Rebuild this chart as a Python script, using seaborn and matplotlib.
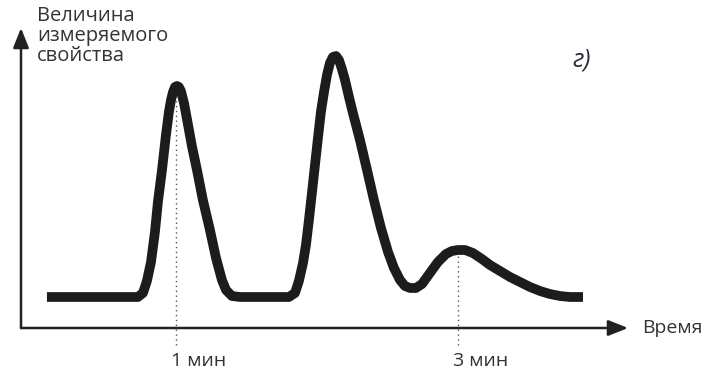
import matplotlib
matplotlib.use("Agg")
import matplotlib.pyplot as plt
import seaborn as sns
import pandas as pd

sns.set_theme(style="white")
plt.rcParams['font.family'] = ['Open Sans', 'DejaVu Sans']

# Signal (time in minutes, signal in arbitrary units)
time_min = [0.085, 0.730, 0.766, 0.794, 0.823, 0.851, 0.872, 0.901, 0.929, 0.950, 0.965, 0.979,
            0.993, 1.007, 1.021, 1.035, 1.057, 1.078, 1.113, 1.149, 1.191, 1.241, 1.284, 1.326,
            1.355, 1.397, 1.454,
            1.801, 1.844, 1.872, 1.901, 1.922, 1.943, 1.965, 1.986, 2.007, 2.028, 2.050, 2.071,
            2.092, 2.113, 2.135, 2.156, 2.177, 2.199, 2.227, 2.255, 2.305, 2.355, 2.404, 2.454,
            2.504, 2.546, 2.589, 2.624, 2.660, 2.702, 2.745, 2.801, 2.858, 2.915, 2.957, 3.000,
            3.050, 3.106, 3.170, 3.227, 3.298, 3.369, 3.440, 3.511, 3.582, 3.652, 3.723, 3.794,
            3.887]
signal = [0.31, 0.31, 0.35, 0.47, 0.66, 0.96, 1.26, 1.58, 1.93, 2.16, 2.28, 2.36,
          2.41, 2.42, 2.41, 2.37, 2.25, 2.09, 1.82, 1.58, 1.28, 0.98, 0.70, 0.48,
          0.38, 0.32, 0.31,
          0.31, 0.35, 0.47, 0.65, 0.83, 1.08, 1.36, 1.63, 1.90, 2.16, 2.36, 2.53,
          2.65, 2.71, 2.72, 2.68, 2.59, 2.48, 2.31, 2.15, 1.88, 1.58, 1.28, 1.00,
          0.76, 0.60, 0.48, 0.42, 0.40, 0.40, 0.44, 0.55, 0.66, 0.74, 0.77, 0.78,
          0.78, 0.75, 0.69, 0.63, 0.57, 0.51, 0.46, 0.41, 0.37, 0.34, 0.32, 0.31,
          0.31]

marked_times = [1.0, 3.0]
marked_peaks = [2.42, 0.78]
tick_labels = ["1 мин", "3 мин"]
y_label = "Величина\nизмеряемого\nсвойства"
x_label = "Время"
panel_label = "г)"

df = pd.DataFrame({"t": time_min, "v": signal})

W, H = 711, 378
fig = plt.figure(figsize=(W / 100, H / 100), dpi=100)
ax = fig.add_axes([21 / W, 1 - 328 / H, (628 - 21) / W, 300 / H])
ax.set_xlim(-0.099, 4.206)
ax.set_ylim(0, 3.0)
for s in ax.spines.values():
    s.set_visible(False)
ax.set_xticks([])
ax.set_yticks([])
ax.patch.set_alpha(0)

sns.lineplot(data=df, x="t", y="v", sort=False, color="#1c1c1c", lw=7.0, ax=ax,
             solid_capstyle="butt", solid_joinstyle="round")

# dotted markers from peaks down through the axis
ax.vlines(marked_times, -0.17, [p - 0.05 for p in marked_peaks], colors="#555555",
          linestyles=(0, (1, 2.5)), lw=1.0, clip_on=False, zorder=1)

# axes arrows
arrow = dict(arrowstyle="-|>,head_length=1.0,head_width=0.4", color="#222222", lw=1.8,
             shrinkA=0, shrinkB=0)
ax.annotate("", xy=(0, 1.0), xytext=(0, 0), xycoords="axes fraction", arrowprops=arrow)
ax.annotate("", xy=(1.0, 0), xytext=(0, 0), xycoords="axes fraction", arrowprops=arrow)

for t, lab in zip(marked_times, tick_labels):
    ax.text(t - 0.035, -0.33, lab, ha="left", va="center", fontsize=14, color="#333333")

fig.text(37 / W, 1 - 6 / H, y_label, ha="left", va="top", fontsize=14.5, color="#333333",
         linespacing=1.0)
fig.text(642 / W, 1 - 328 / H, x_label, ha="left", va="center", fontsize=14, color="#333333")
fig.text(572 / W, 1 - 60 / H, panel_label, ha="left", va="center", fontsize=18,
         style="italic", color="#2a2a3a")

fig.savefig("out.png", dpi=100)
